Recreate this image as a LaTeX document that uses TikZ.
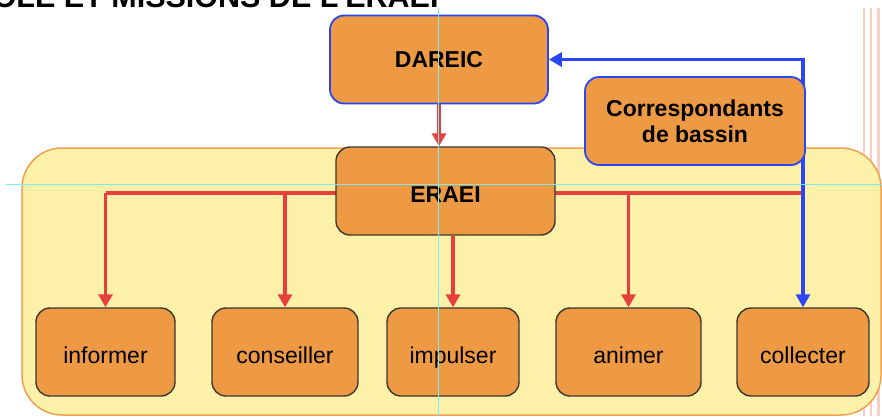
\documentclass[tikz,border=0pt]{standalone}
\usepackage{fontspec}
\setmainfont{Liberation Sans}
\usetikzlibrary{arrows.meta}
\definecolor{boxfill}{RGB}{238,153,68}
\definecolor{panel}{RGB}{253,241,170}
\definecolor{panelborder}{RGB}{240,160,80}
\definecolor{bluec}{RGB}{45,70,245}
\definecolor{redc}{RGB}{230,64,60}
\definecolor{darkb}{RGB}{60,55,45}
\definecolor{guide}{RGB}{125,235,235}
\definecolor{pinkc}{RGB}{245,208,192}
\pgfdeclarelayer{back}
\pgfdeclarelayer{conn}
\pgfdeclarelayer{front}
\pgfsetlayers{back,conn,main,front}
\begin{document}
\begin{tikzpicture}[x=1pt,y=-1pt,
  box/.style={draw=darkb,line width=1.4pt,fill=boxfill,rounded corners=14pt,
    inner sep=0pt,minimum height=88pt,align=center,
    text height=24pt,text depth=2pt,
    font=\fontsize{23}{26}\selectfont},
  bbox/.style={box,draw=bluec,line width=1.8pt,text height=,text depth=,
    font=\bfseries\fontsize{23}{26}\selectfont},
  dbox/.style={box,font=\bfseries\fontsize{23}{26}\selectfont},
  redl/.style={draw=redc,line width=3.8pt},
  reda/.style={redl,-{Triangle[width=14pt,length=13pt]}},
  bluel/.style={draw=bluec,line width=3.8pt,{Triangle[width=14pt,length=13pt]}-{Triangle[width=14pt,length=13pt]}},
  guideline/.style={draw=guide,line width=1pt}]
\path[use as bounding box,clip] (0,0) rectangle (882,416);
\begin{pgfonlayer}{back}
  \fill[white] (0,0) rectangle (882,416);
  \draw[pinkc,line width=2pt] (864,8) -- (864,416);
  \draw[pinkc,line width=1.5pt] (871,8) -- (871,416);
  \draw[pinkc,line width=3pt] (878,8) -- (878,416);
  \draw[panelborder,fill=panel,line width=1.5pt,rounded corners=40pt]
    (22,148) rectangle (881,415);
\end{pgfonlayer}

\node[anchor=base east,font=\bfseries\fontsize{30.5}{32}\selectfont] (title) at (442,7)
  {RÔLE ET MISSIONS DE L'ERAEI};

\node[bbox,minimum width=218pt] (dareic) at (439,59.5) {DAREIC};
\node[bbox,minimum width=220pt] (corr) at (695,121) {Correspondants\\de bassin};
\node[dbox,minimum width=219pt] (eraei) at (445.5,191) {ERAEI};

\node[box,minimum width=139pt] (informer) at (105.5,352) {informer};
\node[box,minimum width=146pt] (conseiller) at (285,352) {conseiller};
\node[box,minimum width=132pt] (impulser) at (453,352) {impulser};
\node[box,minimum width=145pt] (animer) at (628.5,352) {animer};
\node[box,minimum width=132pt] (collecter) at (803,352) {collecter};

\coordinate (bus) at (445.5,193);

\begin{pgfonlayer}{conn}
  \draw[reda] (dareic.south) -- (eraei.north -| dareic.south);
  \draw[redl] (informer.north |- bus) -- (collecter.north |- bus);
  \draw[reda] (informer.north |- bus) -- (informer.north);
  \draw[reda] (conseiller.north |- bus) -- (conseiller.north);
  \draw[reda] (eraei.south -| impulser.north) -- (impulser.north);
  \draw[reda] (animer.north |- bus) -- (animer.north);
  \draw[bluel] (dareic.east) -| (collecter.north);
\end{pgfonlayer}

\begin{pgfonlayer}{front}
  \draw[guideline] (6,184) -- (882,184);
  \draw[guideline] (438,8) -- (438,416);
\end{pgfonlayer}
\end{tikzpicture}
\end{document}
